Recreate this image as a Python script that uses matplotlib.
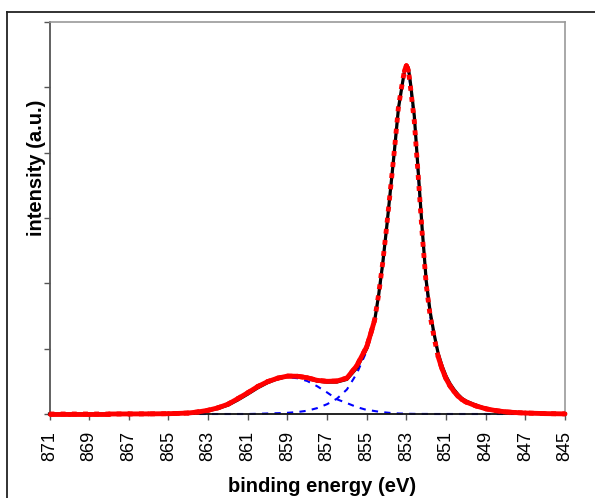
import matplotlib
matplotlib.use("Agg")
import matplotlib.pyplot as plt
from matplotlib.collections import LineCollection
from matplotlib.lines import Line2D

plt.rcParams['font.family'] = ['Liberation Sans', 'DejaVu Sans']

# ---- data (binding energy in eV, intensity in a.u.) ----
energy = [871, 870, 869, 868, 867, 866, 865, 864.5, 864, 863.5, 863, 862.5, 862,
          861.5, 861, 860.5, 860, 859.5, 859, 858.5, 858, 857.5, 857, 856.5, 856,
          855.5, 855, 854.8, 854.6, 854.4, 854.2, 854, 853.8, 853.6, 853.4, 853.2,
          853.1, 853, 852.9, 852.8, 852.6, 852.4, 852.2, 852, 851.8, 851.6, 851.4,
          851.2, 851, 850.8, 850.6, 850.4, 850.2, 850, 849.5, 849, 848.5, 848,
          847.5, 847, 846, 845]

measured = [0, 0, 0, 0, 1, 2, 4, 8, 13, 28, 50, 85, 135, 215, 305, 400, 480,
            538, 575, 578, 552, 505, 488, 490, 530, 705, 1000,
            1210, 1430, 1820, 2290, 2840, 3440, 4040, 4680, 5060, 5240, 5320,
            5300, 5080, 4560, 3700, 2820, 2040, 1560, 1220, 930, 735, 580,
            465, 375, 300, 240, 200, 135, 85, 55, 35, 23, 15, 6, 2]

fit = [0, 0, 0, 0, 1, 2, 5, 9, 15, 32, 57, 95, 150, 235, 325, 420, 495,
       548, 580, 578, 555, 515, 500, 505, 550, 740, 1030,
       1230, 1440, 1830, 2300, 2850, 3450, 4050, 4700, 5080, 5250, 5330,
       5260, 5020, 4480, 3630, 2750, 1980, 1500, 1170, 880, 690, 540,
       430, 345, 275, 222, 185, 125, 80, 52, 33, 22, 15, 6, 2]

main_peak = [0, 0, 0, 0, 0, 0, 0, 0, 0, 0, 0, 0, 0, 0, 0, 3, 8,
             12, 18, 30, 50, 90, 150, 235, 375, 620, 965,
             1175, 1395, 1794, 2272, 2828, 3434, 4038, 4692, 5074, 5245, 5326,
             5257, 5017, 4478, 3628, 2749, 1979, 1500, 1170, 880, 690, 540,
             430, 345, 275, 222, 185, 125, 80, 52, 33, 22, 15, 6, 2]

satellite = [0, 0, 0, 0, 1, 2, 5, 9, 15, 32, 57, 95, 150, 235, 325, 417, 487,
             536, 562, 548, 505, 425, 330, 225, 167, 106, 62,
             55, 45, 36, 28, 22, 16, 12, 8, 6, 5, 4,
             3, 3, 2, 2, 1, 1, 0, 0, 0, 0, 0,
             0, 0, 0, 0, 0, 0, 0, 0, 0, 0, 0, 0, 0]

x_ticks = [871, 869, 867, 865, 863, 861, 859, 857, 855, 853, 851, 849, 847, 845]
y_ticks = [0, 1000, 2000, 3000, 4000, 5000, 6000]

W, H = 595, 498
fig = plt.figure(figsize=(W / 100, H / 100), dpi=100)

# outer frame (left and top edges visible)
fig.add_artist(Line2D([7 / W, 7 / W], [0, 1 - 12 / H], transform=fig.transFigure,
                      color='#222222', lw=1.3))
fig.add_artist(Line2D([7 / W, 1], [1 - 12 / H, 1 - 12 / H], transform=fig.transFigure,
                      color='#222222', lw=1.3))

ax_l, ax_r, ax_t, ax_b = 49.5, 565, 22, 414
ax = fig.add_axes([ax_l / W, 1 - ax_b / H, (ax_r - ax_l) / W, (ax_b - ax_t) / H])
ax.set_xlim(871, 845)
ax.set_ylim(0, 6000)

# components (underneath everything)
ax.plot(energy, main_peak, color='#0000FF', lw=1.5, ls=(0, (3, 3)), zorder=1, clip_on=False)
ax.plot(energy, satellite, color='#0000FF', lw=1.5, ls=(0, (3, 3)), zorder=1, clip_on=False)
# measured spectrum
ax.plot(energy, measured, color='black', lw=2.3, zorder=2, clip_on=False,
        solid_joinstyle='round')

# fit envelope: dotted on steep parts, looks solid where flat
RED_LW = 3.5
ax.plot(energy, fit, color='#FF0000', lw=RED_LW, ls=(0, (1, 1.3)), zorder=4,
        clip_on=False, dash_capstyle='butt')
px_per_ev = (ax_r - ax_l) / 26.0
px_per_i = (ax_b - ax_t) / 6000.0
segs = []
for i in range(len(energy) - 1):
    dx = abs(energy[i + 1] - energy[i]) * px_per_ev
    dy = abs(fit[i + 1] - fit[i]) * px_per_i
    if dy < 3.5 * dx:
        segs.append([(energy[i], fit[i]), (energy[i + 1], fit[i + 1])])
lc = LineCollection(segs, colors='#FF0000', linewidths=RED_LW, zorder=4, clip_on=False)
lc.set_capstyle('round')
ax.add_collection(lc)

# axes styling
ax.spines['left'].set_color('#555555')
ax.spines['left'].set_linewidth(1.3)
ax.spines['bottom'].set_color('#111111')
ax.spines['bottom'].set_linewidth(1.3)
for s in ('top', 'right'):
    ax.spines[s].set_color('#999999')
    ax.spines[s].set_linewidth(1.2)

ax.set_xticks(x_ticks)
ax.set_xticklabels([str(v) for v in x_ticks], rotation=90, fontsize=13)
ax.set_yticks(y_ticks)
ax.set_yticklabels([])
ax.tick_params(axis='x', direction='out', length=4.3, width=1, color='#555555', pad=8)
ax.tick_params(axis='y', direction='out', length=4.3, width=1, color='#555555')

fig.text(322 / W, 1 - 491.5 / H, 'binding energy (eV)', ha='center', va='baseline',
         fontsize=14.5, fontweight='bold')
fig.text(36 / W, 1 - 168 / H, 'intensity (a.u.)', ha='center', va='center',
         rotation=90, fontsize=14.5, fontweight='bold')

fig.savefig('out.png', dpi=100)
